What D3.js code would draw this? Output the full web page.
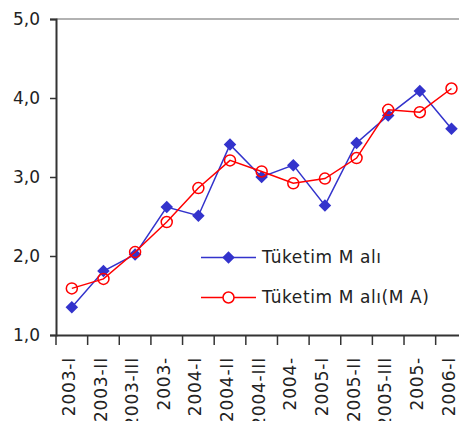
<!DOCTYPE html>
<html><head><meta charset="utf-8">
<script src="https://cdn.jsdelivr.net/npm/d3@7"></script>
<style>body{margin:0;background:#fff;} svg{display:block;}</style>
</head><body>
<svg id="c" width="459" height="421"></svg>
<script>
const categories = ["2003-I","2003-II","2003-III","2003-","2004-I","2004-II","2004-III","2004-","2005-I","2005-II","2005-III","2005-","2006-I"];
const tuketim = [1.35,1.81,2.02,2.62,2.51,3.41,3.00,3.15,2.64,3.43,3.78,4.09,3.61];
const tuketimMA = [1.59,1.71,2.05,2.43,2.86,3.21,3.07,2.92,2.98,3.24,3.85,3.82,4.12];
const yTicks = [1,2,3,4,5];
const seriesNames = ["Tüketim M alı","Tüketim M alı(M A)"];

const font = "'DejaVu Sans', sans-serif";
const svg = d3.select("#c");
const L = 56, T = 19, B = 335, R = 467.3;
const x = d3.scaleBand().domain(categories).range([L, R]);
const y = d3.scaleLinear().domain([1,5]).range([B, T]);

// top border line
svg.append("line").attr("x1", L).attr("x2", 459).attr("y1", y(5)).attr("y2", y(5))
  .attr("stroke", "#999").attr("stroke-width", 1.5);

// y axis
const ya = svg.append("g").attr("transform", `translate(${L},0)`)
  .call(d3.axisLeft(y).tickValues(yTicks).tickSize(6).tickPadding(10)
    .tickFormat(d => d3.format(".1f")(d).replace(".", ",")));
ya.select(".domain").attr("stroke", "#333").attr("stroke-width", 2);
ya.selectAll(".tick line").attr("stroke", "#333").attr("stroke-width", 1.5);
ya.selectAll("text").attr("font-family", font).attr("font-size", 17).attr("fill", "#222");

// x axis
const xa = svg.append("g").attr("transform", `translate(0,${B})`)
  .call(d3.axisBottom(x).tickSize(0).tickSizeOuter(0));
xa.select(".domain").attr("stroke", "#333").attr("stroke-width", 2);
xa.selectAll(".tick line").remove();
xa.selectAll(".tick text").attr("font-family", font).attr("font-size", 17).attr("fill", "#222")
  .attr("letter-spacing", 0.8)
  .attr("text-anchor", "end").attr("dy", "0.3em")
  .attr("transform", "translate(-2,22) rotate(-90)").attr("x", 0).attr("y", 0);
// band boundary ticks
const bounds = categories.map(c => x(c)).concat([R]);
svg.append("g").selectAll("line").data(bounds).join("line")
  .attr("x1", d => d).attr("x2", d => d).attr("y1", B).attr("y2", B + 10)
  .attr("stroke", "#333").attr("stroke-width", 1.5);

const cx = c => x(c) + x.bandwidth() / 2;
const line = d3.line().x(d => cx(d[0])).y(d => y(d[1]));

const blueData = categories.map((c, i) => [c, tuketim[i]]);
const redData = categories.map((c, i) => [c, tuketimMA[i]]);

svg.append("path").datum(blueData).attr("d", line).attr("fill", "none")
  .attr("stroke", "#3333CC").attr("stroke-width", 1.5);
svg.append("g").selectAll("path").data(blueData).join("path")
  .attr("d", d3.symbol(d3.symbolDiamond2, 100)())
  .attr("transform", d => `translate(${cx(d[0])},${y(d[1])})`)
  .attr("fill", "#3333CC");

svg.append("path").datum(redData).attr("d", line).attr("fill", "none")
  .attr("stroke", "#FF0000").attr("stroke-width", 1.5);
svg.append("g").selectAll("circle").data(redData).join("circle")
  .attr("cx", d => cx(d[0])).attr("cy", d => y(d[1])).attr("r", 5.5)
  .attr("fill", "none").attr("stroke", "#FF0000").attr("stroke-width", 1.5);

// legend
const lg = svg.append("g");
const legendItems = [
  {name: seriesNames[0], color: "#3333CC", type: "diamond", yy: 257.5},
  {name: seriesNames[1], color: "#FF0000", type: "circle", yy: 297.5}
];
legendItems.forEach(it => {
  lg.append("line").attr("x1", 201).attr("x2", 256).attr("y1", it.yy).attr("y2", it.yy)
    .attr("stroke", it.color).attr("stroke-width", 1.5);
  if (it.type === "diamond") {
    lg.append("path").attr("d", d3.symbol(d3.symbolDiamond2, 100)())
      .attr("transform", `translate(228.5,${it.yy})`).attr("fill", it.color);
  } else {
    lg.append("circle").attr("cx", 228.5).attr("cy", it.yy).attr("r", 5.5)
      .attr("fill", "#fff").attr("stroke", it.color).attr("stroke-width", 1.5);
  }
  lg.append("text").attr("x", 262).attr("y", it.yy).attr("dy", "0.35em")
    .attr("font-family", font).attr("font-size", 17).attr("letter-spacing", 0.6)
    .attr("fill", "#222").text(it.name);
});
</script>
</body></html>
